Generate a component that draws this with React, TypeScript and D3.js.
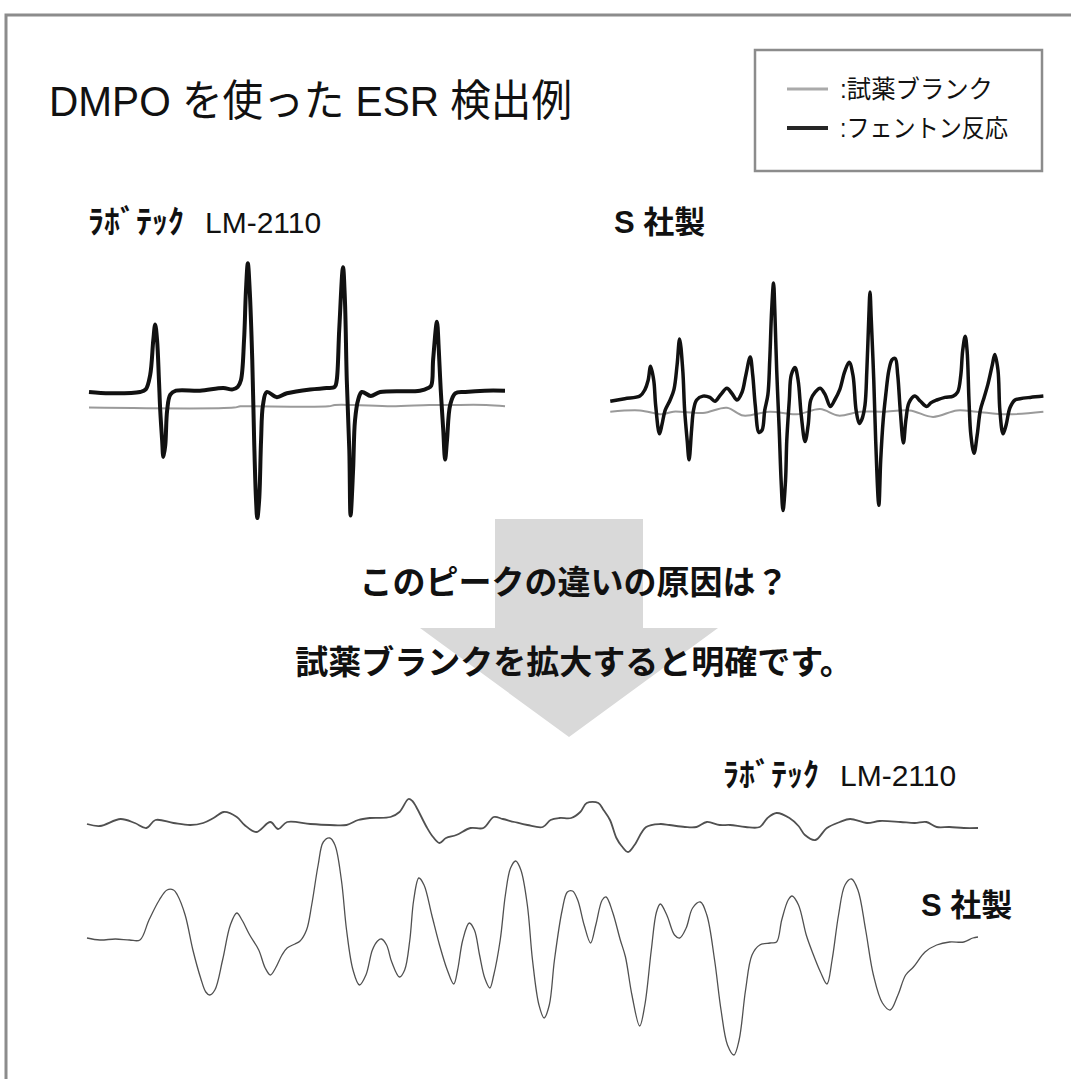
import React from "react";
import * as d3 from "d3";

type Pt = [number, number];

// ---------- DATA (field offset in mT, intensity in arbitrary units) ----------
// Upper left: ラボテック LM-2110, Fenton reaction (DMPO-OH quartet)
const laboFenton: Pt[] = [
  [-3.3, 0.0], [-2.97, -0.01], [-2.49, 0.0], [-2.4, 0.02], [-2.33, 0.13], [-2.28, 0.4],
  [-2.25, 0.52], [-2.22, 0.4], [-2.19, 0.09], [-2.17, -0.14], [-2.14, -0.37], [-2.12, -0.5],
  [-2.09, -0.41], [-2.06, -0.14], [-2.01, -0.02], [-1.92, 0.01], [-1.54, 0.01], [-1.17, 0.03],
  [-1.02, 0.02], [-0.94, 0.04], [-0.89, 0.09], [-0.84, 0.4], [-0.81, 0.78], [-0.78, 0.99],
  [-0.75, 0.78], [-0.71, 0.25], [-0.68, -0.37], [-0.65, -0.83], [-0.63, -0.97], [-0.6, -0.83],
  [-0.57, -0.37], [-0.54, -0.1], [-0.48, 0.0], [-0.32, -0.04], [-0.16, -0.01], [0.21, 0.02],
  [0.47, 0.03], [0.6, 0.04], [0.63, 0.09], [0.67, 0.48], [0.73, 0.96], [0.76, 0.71],
  [0.79, 0.09], [0.83, -0.45], [0.85, -0.95], [0.89, -0.6], [0.92, -0.22], [0.97, -0.06],
  [1.03, 0.0], [1.17, -0.03], [1.32, 0.0], [1.95, 0.01], [2.08, 0.03], [2.13, 0.05],
  [2.16, 0.25], [2.22, 0.54], [2.25, 0.32], [2.28, 0.02], [2.32, -0.29], [2.35, -0.52],
  [2.38, -0.37], [2.43, -0.1], [2.51, -0.01], [2.67, 0.0], [2.98, 0.01], [3.3, 0.01],
];
// Upper left: reagent blank
const laboBlank: Pt[] = [
  [-3.3, -0.12], [-1.0, -0.12], [-0.9, -0.11], [-0.7, -0.11], [0.5, -0.11], [0.6, -0.1],
  [0.9, -0.1], [1.5, -0.11], [2.1, -0.1], [2.4, -0.1], [3.0, -0.1], [3.3, -0.11],
];

// Upper right: S 社製, Fenton reaction
const sFenton: Pt[] = [
  [-3.43, -0.01], [-3.2, 0.01], [-2.96, 0.03], [-2.88, 0.08], [-2.83, 0.15], [-2.79, 0.26],
  [-2.74, 0.15], [-2.71, -0.04], [-2.65, -0.26], [-2.61, -0.19], [-2.56, -0.08], [-2.48, 0.0],
  [-2.42, 0.08], [-2.37, 0.27], [-2.33, 0.47], [-2.28, 0.23], [-2.25, -0.08], [-2.21, -0.31],
  [-2.18, -0.46], [-2.14, -0.23], [-2.11, -0.08], [-2.06, 0.0], [-1.96, 0.03], [-1.85, 0.02],
  [-1.77, -0.01], [-1.68, 0.04], [-1.58, 0.09], [-1.5, 0.05], [-1.42, 0.0], [-1.34, 0.06],
  [-1.28, 0.19], [-1.21, 0.33], [-1.17, 0.19], [-1.13, -0.04], [-1.07, -0.25], [-1.02, -0.23],
  [-0.98, -0.08], [-0.93, 0.04], [-0.9, 0.31], [-0.87, 0.69], [-0.84, 0.9], [-0.82, 0.69],
  [-0.79, 0.23], [-0.75, -0.23], [-0.72, -0.62], [-0.69, -0.85], [-0.65, -0.62], [-0.63, -0.31],
  [-0.59, 0.0], [-0.56, 0.19], [-0.5, 0.25], [-0.45, 0.15], [-0.4, -0.12], [-0.34, -0.32],
  [-0.29, -0.19], [-0.25, 0.0], [-0.18, 0.06], [-0.1, 0.09], [-0.02, 0.04], [0.06, -0.05],
  [0.13, 0.0], [0.21, 0.08], [0.29, 0.22], [0.36, 0.29], [0.42, 0.19], [0.47, -0.08],
  [0.52, -0.18], [0.56, -0.15], [0.61, -0.04], [0.64, 0.23], [0.67, 0.62], [0.69, 0.83],
  [0.71, 0.62], [0.75, 0.15], [0.78, -0.31], [0.83, -0.81], [0.86, -0.46], [0.9, -0.15],
  [0.94, 0.04], [0.99, 0.23], [1.04, 0.31], [1.09, 0.32], [1.13, 0.19], [1.17, -0.08],
  [1.22, -0.33], [1.26, -0.15], [1.31, -0.02], [1.4, 0.03], [1.49, -0.01], [1.59, -0.05],
  [1.66, -0.02], [1.75, 0.0], [1.88, 0.02], [2.01, 0.03], [2.08, 0.06], [2.13, 0.19],
  [2.16, 0.38], [2.2, 0.49], [2.23, 0.38], [2.26, 0.0], [2.29, -0.27], [2.34, -0.41],
  [2.39, -0.27], [2.44, -0.08], [2.5, 0.02], [2.56, 0.12], [2.63, 0.27], [2.67, 0.35],
  [2.72, 0.23], [2.75, -0.08], [2.8, -0.26], [2.85, -0.19], [2.91, -0.06], [2.99, 0.0],
  [3.07, 0.01], [3.23, 0.02], [3.44, 0.03],
];
// Upper right: reagent blank
const sBlank: Pt[] = [
  [-3.43, -0.09], [-2.96, -0.08], [-2.61, -0.11], [-2.43, -0.09], [-1.96, -0.1], [-1.58, -0.06],
  [-1.32, -0.12], [-0.9, -0.09], [-0.47, -0.11], [-0.1, -0.07], [0.19, -0.12], [0.53, -0.09],
  [0.9, -0.09], [1.32, -0.08], [1.69, -0.13], [2.07, -0.08], [2.38, -0.09], [2.86, -0.11],
  [3.44, -0.09],
];

// Lower: magnified reagent blanks
const laboBlankZoom: Pt[] = [
  [-3.45, 1.16], [-3.35, 1.14], [-3.19, 1.21], [-3.08, 1.17], [-2.99, 1.12], [-2.92, 1.2],
  [-2.78, 1.17], [-2.65, 1.15], [-2.55, 1.17], [-2.47, 1.22], [-2.39, 1.28], [-2.29, 1.23],
  [-2.23, 1.15], [-2.14, 1.08], [-2.03, 1.18], [-1.97, 1.11], [-1.9, 1.18], [-1.72, 1.16],
  [-1.57, 1.15], [-1.44, 1.15], [-1.35, 1.2], [-1.26, 1.22], [-1.1, 1.23], [-1.03, 1.28],
  [-0.96, 1.41], [-0.93, 1.39], [-0.9, 1.33], [-0.82, 1.13], [-0.77, 1.03], [-0.72, 0.97],
  [-0.67, 1.02], [-0.59, 1.05], [-0.48, 1.12], [-0.38, 1.12], [-0.3, 1.23], [-0.23, 1.21],
  [-0.14, 1.18], [-0.04, 1.15], [0.08, 1.13], [0.14, 1.2], [0.21, 1.22], [0.3, 1.22],
  [0.37, 1.28], [0.42, 1.37], [0.51, 1.37], [0.55, 1.3], [0.6, 1.2], [0.65, 1.02],
  [0.69, 0.94], [0.74, 0.88], [0.79, 0.95], [0.88, 1.13], [0.99, 1.16], [1.06, 1.15],
  [1.18, 1.13], [1.27, 1.13], [1.35, 1.18], [1.45, 1.15], [1.53, 1.15], [1.65, 1.13],
  [1.76, 1.13], [1.82, 1.22], [1.89, 1.27], [1.99, 1.22], [2.06, 1.14], [2.11, 1.05],
  [2.19, 1.0], [2.28, 1.12], [2.38, 1.18], [2.46, 1.21], [2.59, 1.17], [2.69, 1.19],
  [2.85, 1.18], [2.96, 1.17], [3.05, 1.18], [3.13, 1.13], [3.23, 1.13], [3.34, 1.12],
  [3.45, 1.12],
];
const sBlankZoom: Pt[] = [
  [-3.45, 0.02], [-3.35, 0.0], [-3.23, 0.01], [-3.12, 0.0], [-3.04, 0.0], [-2.97, 0.2],
  [-2.89, 0.4], [-2.83, 0.5], [-2.78, 0.5], [-2.75, 0.45], [-2.69, 0.25], [-2.63, -0.1],
  [-2.57, -0.38], [-2.53, -0.52], [-2.5, -0.55], [-2.46, -0.5], [-2.4, -0.2], [-2.34, 0.15],
  [-2.29, 0.27], [-2.25, 0.2], [-2.19, 0.05], [-2.12, -0.1], [-2.07, -0.28], [-2.03, -0.35],
  [-1.99, -0.28], [-1.94, -0.15], [-1.9, -0.08], [-1.84, -0.04], [-1.8, -0.01], [-1.75, 0.1],
  [-1.71, 0.35], [-1.66, 0.75], [-1.62, 0.98], [-1.57, 1.02], [-1.53, 0.95], [-1.48, 0.6],
  [-1.44, 0.1], [-1.39, -0.3], [-1.34, -0.45], [-1.29, -0.35], [-1.24, -0.1], [-1.2, -0.01],
  [-1.17, 0.01], [-1.13, -0.05], [-1.09, -0.22], [-1.03, -0.37], [-0.99, -0.3], [-0.95, 0.0],
  [-0.92, 0.4], [-0.88, 0.62], [-0.84, 0.55], [-0.78, 0.25], [-0.72, -0.05], [-0.66, -0.3],
  [-0.61, -0.44], [-0.58, -0.3], [-0.54, 0.0], [-0.49, 0.17], [-0.45, 0.1], [-0.41, -0.15],
  [-0.37, -0.38], [-0.33, -0.48], [-0.3, -0.35], [-0.25, 0.0], [-0.21, 0.45], [-0.17, 0.72],
  [-0.13, 0.79], [-0.09, 0.7], [-0.04, 0.35], [0.0, -0.2], [0.05, -0.65], [0.09, -0.78],
  [0.13, -0.65], [0.17, -0.2], [0.23, 0.3], [0.27, 0.48], [0.31, 0.49], [0.35, 0.4],
  [0.4, 0.15], [0.45, -0.03], [0.49, 0.15], [0.54, 0.4], [0.57, 0.43], [0.62, 0.28],
  [0.68, 0.0], [0.72, -0.17], [0.77, -0.55], [0.83, -0.86], [0.87, -0.65], [0.92, -0.1],
  [0.96, 0.28], [0.99, 0.36], [1.04, 0.25], [1.1, 0.05], [1.14, 0.02], [1.19, 0.12],
  [1.24, 0.32], [1.3, 0.38], [1.35, 0.25], [1.41, -0.2], [1.46, -0.7], [1.51, -1.05],
  [1.56, -1.15], [1.6, -1.0], [1.65, -0.5], [1.7, -0.15], [1.76, -0.05], [1.84, -0.03],
  [1.89, -0.02], [1.93, 0.2], [1.98, 0.4], [2.01, 0.44], [2.06, 0.35], [2.12, 0.05],
  [2.17, -0.13], [2.23, -0.32], [2.28, -0.44], [2.32, -0.2], [2.37, 0.25], [2.42, 0.55],
  [2.47, 0.61], [2.52, 0.5], [2.58, 0.1], [2.64, -0.35], [2.71, -0.63], [2.77, -0.7],
  [2.83, -0.55], [2.89, -0.35], [2.95, -0.27], [3.04, -0.12], [3.13, -0.05], [3.23, -0.02],
  [3.34, -0.02], [3.41, 0.02], [3.45, 0.03],
];

const titleText = "DMPO を使った ESR 検出例";
const legendLabels = [":試薬ブランク", ":フェントン反応"];
const questionText = "このピークの違いの原因は？";
const answerText = "試薬ブランクを拡大すると明確です。";
const laboName = "ﾗﾎﾞﾃｯｸ";
const laboModel = "LM-2110";
const sName = "S 社製";

// ---------- STYLE ----------
const W = 1071;
const H = 1079;
const BLANK_COLOR = "#9a9a9a";
const FENTON_COLOR = "#111111";
const ZOOM_COLOR = "#505050";
const FRAME_COLOR = "#8c8c8c";
const ARROW_COLOR = "#d9d9d9";
const JP = "'Liberation Sans', Arial, 'Noto Sans CJK JP', sans-serif";

function makeLine(x: d3.ScaleLinear<number, number>, y: d3.ScaleLinear<number, number>) {
  return d3
    .line<Pt>()
    .x((d) => x(d[0]))
    .y((d) => y(d[1]))
    .curve(d3.curveCatmullRom.alpha(0.5));
}

export default function App() {
  // scales
  const xL = d3.scaleLinear().domain([-3.3, 3.3]).range([89, 505]);
  const yL = d3.scaleLinear().domain([-1, 1]).range([522, 262]);
  const xR = d3.scaleLinear().domain([-3.45, 3.45]).range([609, 1044]);
  const yR = d3.scaleLinear().domain([-1, 1]).range([530, 270]);
  const xB = d3.scaleLinear().domain([-3.45, 3.45]).range([87, 978]);
  const yB = d3.scaleLinear().domain([-1, 1]).range([1040, 840]);

  const lineL = makeLine(xL, yL);
  const lineR = makeLine(xR, yR);
  const lineB = makeLine(xB, yB);

  // arrow geometry
  const ax0 = 495, ax1 = 643, ayTop = 519, ayHead = 628, awL = 420, awR = 718, ayTip = 737;
  const arrowPts = [
    [ax0, ayTop], [ax1, ayTop], [ax1, ayHead], [awR, ayHead],
    [(awL + awR) / 2, ayTip], [awL, ayHead], [ax0, ayHead],
  ];

  return (
    <svg
      width={W}
      height={H}
      viewBox={`0 0 ${W} ${H}`}
      style={{ position: "absolute", left: 0, top: 0, background: "#fff" }}
    >
      <rect x={0} y={0} width={W} height={H} fill="#fff" />
      {/* frame */}
      <rect x={6} y={15} width={W + 50} height={H + 50} fill="none" stroke={FRAME_COLOR} strokeWidth={3} />

      {/* title */}
      <text
        x={49}
        y={116}
        fontFamily={JP}
        fontSize={43}
        fill="#111"
        textLength={523}
        lengthAdjust="spacingAndGlyphs"
      >
        {titleText}
      </text>

      {/* legend */}
      <rect x={755} y={50} width={287} height={121} fill="#fff" stroke={FRAME_COLOR} strokeWidth={2.5} />
      {legendLabels.map((lab, i) => (
        <g key={lab}>
          <line
            x1={787}
            x2={828}
            y1={89 + i * 39}
            y2={89 + i * 39}
            stroke={i === 0 ? "#aaaaaa" : "#262626"}
            strokeWidth={i === 0 ? 3 : 4}
          />
          <text
            x={840}
            y={98 + i * 39}
            fontFamily={JP}
            fontSize={25}
            fill="#111"
            textLength={i === 0 ? 153 : 168}
            lengthAdjust="spacingAndGlyphs"
          >
            {lab}
          </text>
        </g>
      ))}

      {/* upper labels */}
      <text x={88} y={233} fontFamily={JP} fontWeight="bold" fontSize={32} fill="#111">
        {laboName}
      </text>
      <text x={205} y={233} fontFamily={JP} fontSize={30} fill="#111">
        {laboModel}
      </text>
      <text x={614} y={233} fontFamily={JP} fontWeight="bold" fontSize={31} fill="#111">
        {sName}
      </text>

      {/* arrow */}
      <polygon points={arrowPts.map((p) => p.join(",")).join(" ")} fill={ARROW_COLOR} />

      {/* upper spectra */}
      <path d={lineL(laboBlank) ?? ""} fill="none" stroke={BLANK_COLOR} strokeWidth={2} />
      <path d={lineL(laboFenton) ?? ""} fill="none" stroke={FENTON_COLOR} strokeWidth={4} strokeLinejoin="round" />
      <path d={lineR(sBlank) ?? ""} fill="none" stroke={BLANK_COLOR} strokeWidth={2} />
      <path d={lineR(sFenton) ?? ""} fill="none" stroke={FENTON_COLOR} strokeWidth={3.5} strokeLinejoin="round" />

      {/* middle texts */}
      <text x={574} y={594} textAnchor="middle" fontFamily={JP} fontWeight="bold" fontSize={33} fill="#111">
        {questionText}
      </text>
      <text x={574} y={674} textAnchor="middle" fontFamily={JP} fontWeight="bold" fontSize={33} fill="#111">
        {answerText}
      </text>

      {/* lower labels */}
      <text x={723} y={786} fontFamily={JP} fontWeight="bold" fontSize={32} fill="#111">
        {laboName}
      </text>
      <text x={840} y={786} fontFamily={JP} fontSize={30} fill="#111">
        {laboModel}
      </text>
      <text x={921} y={916} fontFamily={JP} fontWeight="bold" fontSize={31} fill="#111">
        {sName}
      </text>

      {/* lower magnified blanks */}
      <path d={lineB(laboBlankZoom) ?? ""} fill="none" stroke={ZOOM_COLOR} strokeWidth={1.8} />
      <path d={lineB(sBlankZoom) ?? ""} fill="none" stroke={ZOOM_COLOR} strokeWidth={1.3} />
    </svg>
  );
}
